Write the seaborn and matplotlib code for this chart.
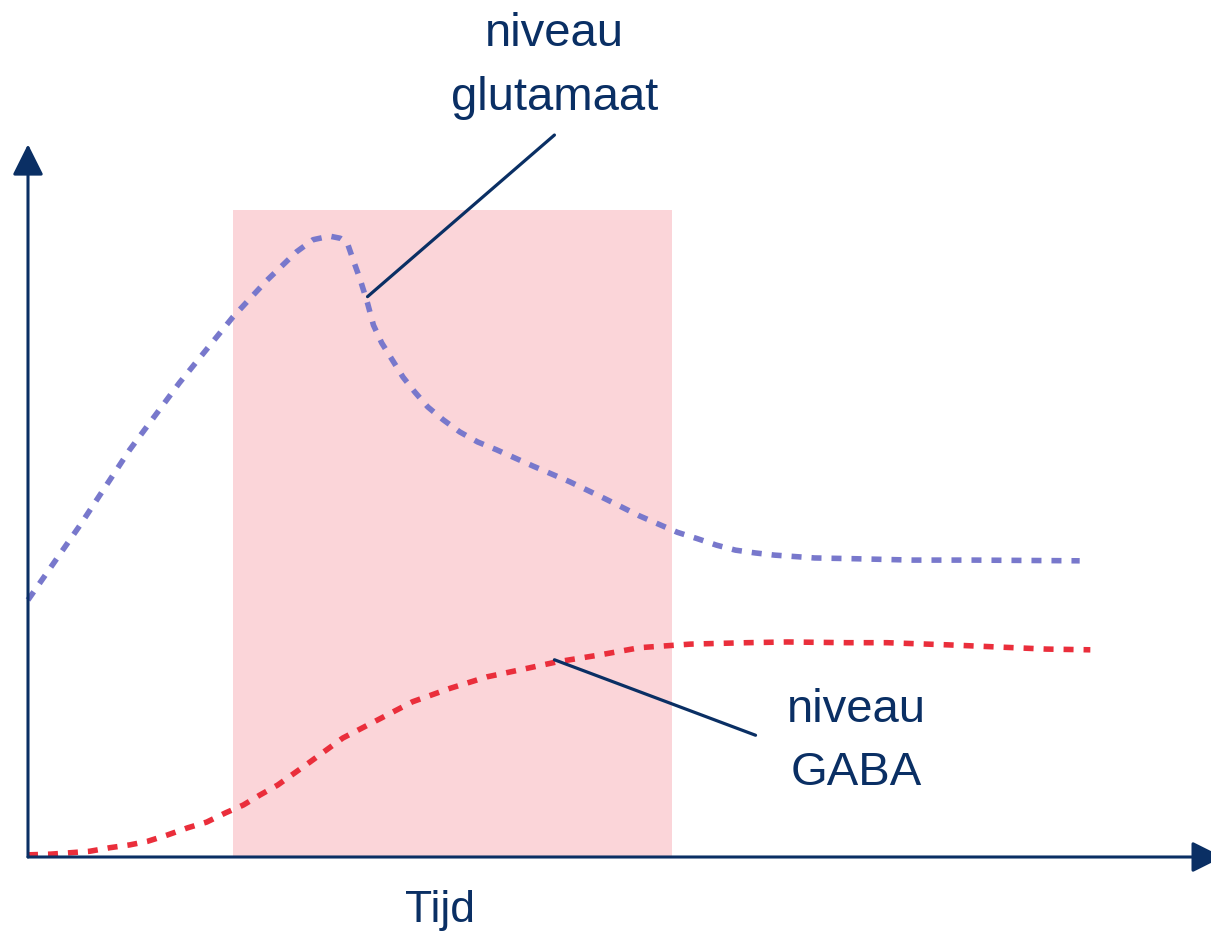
import matplotlib
matplotlib.use('Agg')
import matplotlib.pyplot as plt
import seaborn as sns

# tijd en niveaus
glu_tijd = [0.00, 0.44, 0.86, 1.28, 1.73, 2.02, 2.27, 2.41, 2.55, 2.64, 2.70, 2.75, 2.81,
            2.87, 2.92, 2.99, 3.08, 3.17, 3.27, 3.38, 3.51, 3.65, 3.80, 3.96, 4.27, 4.58,
            4.88, 5.17, 5.49, 5.66, 5.82, 5.98, 6.15, 6.31, 6.65, 6.97, 7.48, 7.99, 8.89]
glu_niveau = [36.1, 46.6, 57.2, 66.6, 75.8, 81.0, 85.0, 86.7, 87.2, 86.9, 86.2, 83.8, 81.0,
              77.8, 74.7, 72.2, 69.8, 67.4, 65.3, 63.2, 61.4, 59.7, 58.3, 57.2, 54.9, 52.7,
              50.3, 47.9, 45.6, 44.7, 43.8, 43.1, 42.7, 42.4, 42.0, 41.9, 41.7, 41.7, 41.6]

gaba_tijd = [0.00, 0.19, 0.36, 0.52, 0.69, 0.86, 1.01, 1.18, 1.35, 1.51, 1.67, 1.82, 1.96,
             2.11, 2.38, 2.66, 2.95, 3.25, 3.57, 3.88, 4.22, 4.47, 4.84, 5.17, 5.60, 6.08,
             6.42, 6.92, 7.26, 7.77, 8.19, 8.61, 8.98]
gaba_niveau = [0.3, 0.4, 0.6, 0.8, 1.3, 1.7, 2.2, 3.1, 4.1, 4.9, 6.2, 7.3, 8.7,
               10.1, 13.3, 16.7, 19.2, 21.8, 23.7, 25.3, 26.5, 27.4, 28.4, 29.4, 29.9, 30.1,
               30.2, 30.1, 30.1, 29.8, 29.5, 29.2, 29.1]

# periode met prikkel (roze vlak)
prikkel_start, prikkel_eind, prikkel_hoogte = 1.73, 5.44, 90.9

labels_glu = ['niveau', 'glutamaat']
labels_gaba = ['niveau', 'GABA']
x_label = 'Tijd'

navy = '#0a2f64'
blauw = '#7878cc'
rood = '#ea2e3b'
roze = '#fbd5d9'

sns.set_style('white')
plt.rcParams['font.family'] = ['Liberation Sans', 'DejaVu Sans']

fig = plt.figure(figsize=(12.11, 9.33), dpi=100)
ax = fig.add_axes([28 / 1211, 76 / 933, 1183 / 1211, 712 / 933])
ax.set_xlim(0, 10)
ax.set_ylim(0, 100)
ax.axis('off')

ax.axvspan(prikkel_start, prikkel_eind, ymin=0, ymax=prikkel_hoogte / 100,
           color=roze, lw=0, zorder=0)

sns.lineplot(x=glu_tijd, y=glu_niveau, ax=ax, color=blauw, lw=4.0, estimator=None,
             sort=False, linestyle=(0, (1.8, 1.8)), clip_on=False, zorder=3)
sns.lineplot(x=gaba_tijd, y=gaba_niveau, ax=ax, color=rood, lw=4.0, estimator=None,
             sort=False, linestyle=(0, (1.8, 1.8)), clip_on=False, zorder=3)

# assen met pijlen
pijl = dict(arrowstyle='-|>,head_length=1.9,head_width=0.95', color=navy, lw=2.2,
            shrinkA=0, shrinkB=0, mutation_scale=10)
ax.annotate('', xy=(0, 100.1), xytext=(0, 0), arrowprops=pijl, annotation_clip=False)
ax.annotate('', xy=(10.10, 0), xytext=(0, 0), arrowprops=pijl, annotation_clip=False)

# aanwijslijnen
ax.plot([2.87, 4.45], [78.7, 101.4], color=navy, lw=2.3, clip_on=False, zorder=4)
ax.plot([4.45, 6.15], [27.7, 17.1], color=navy, lw=2.3, clip_on=False, zorder=4)

ax.text(4.45, 113.9, labels_glu[0], ha='center', va='baseline', fontsize=34, color=navy)
ax.text(4.45, 104.9, labels_glu[1], ha='center', va='baseline', fontsize=34, color=navy)
ax.text(7.0, 19.0, labels_gaba[0], ha='center', va='baseline', fontsize=34, color=navy)
ax.text(7.0, 10.1, labels_gaba[1], ha='center', va='baseline', fontsize=34, color=navy)
ax.text(3.48, -9.1, x_label, ha='center', va='baseline', fontsize=32, color=navy)

plt.savefig('out.png', dpi=100, facecolor='white')
